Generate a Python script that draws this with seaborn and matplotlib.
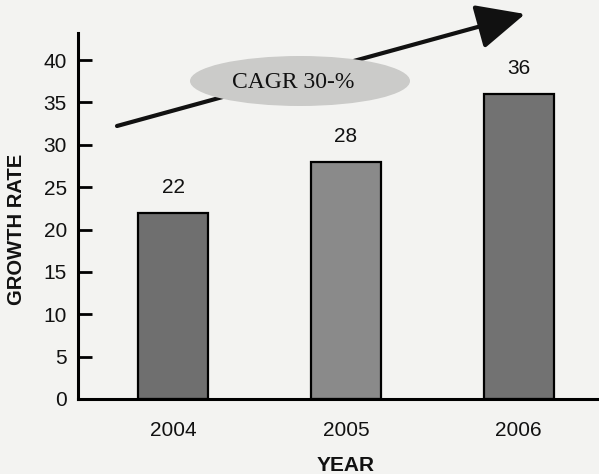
import matplotlib
matplotlib.use("Agg")
import matplotlib.pyplot as plt
from matplotlib.patches import Ellipse, FancyArrowPatch
import pandas as pd
import seaborn as sns

years = ["2004", "2005", "2006"]
growth = [22, 28, 36]
bar_colors = ["#6f6f6f", "#8a8a8a", "#727272"]
y_ticks = [0, 5, 10, 15, 20, 25, 30, 35, 40]
cagr_label = "CAGR 30-%"

sns.set_theme(style="white")
plt.rcParams["font.family"] = ["Liberation Sans", "DejaVu Sans"]

bg = "#f3f3f1"
fig = plt.figure(figsize=(5.99, 4.74), dpi=100, facecolor=bg)
ax = fig.add_axes([78 / 599, 1 - 399 / 474, 1 - 78 / 599, (399 - 33) / 474])
ax.set_facecolor(bg)

df = pd.DataFrame({"year": years, "growth": growth})
sns.barplot(data=df, x="year", y="growth", hue="year", palette=bar_colors,
            width=0.406, edgecolor="black", linewidth=1.6, legend=False,
            saturation=1, ax=ax)

for i, v in enumerate(growth):
    ax.annotate(str(v), (i, v), xytext=(0, 18), textcoords="offset points",
                ha="center", va="center", fontsize=15, color="#111111")

ax.set_xlim(-0.55, 2.464)
ax.set_ylim(0, 43.2)
ax.set_yticks(y_ticks)
ax.set_yticklabels([str(t) for t in y_ticks], fontsize=15, color="#111111")
ax.tick_params(axis="y", direction="in", length=10, width=2, pad=8, color="black", left=True)
ax.tick_params(axis="x", length=0, pad=16, labelsize=15, labelcolor="#111111")

for s in ["top", "right"]:
    ax.spines[s].set_visible(False)
ax.spines["left"].set_linewidth(2.2)
ax.spines["bottom"].set_linewidth(2.2)
ax.spines["left"].set_color("black")
ax.spines["bottom"].set_color("black")

ax.set_xlabel("YEAR", fontsize=15, fontweight="bold", color="#111111")
ax.xaxis.set_label_coords((346 - 78) / 521, -(456 - 399) / 366)
ax.set_ylabel("GROWTH RATE", fontsize=14.5, fontweight="bold", color="#111111")
ax.yaxis.set_label_coords((26 - 78) / 521, (399 - 229) / 366)

# trend arrow with the growth-rate callout
fig.patches.append(FancyArrowPatch(
    (117 / 599, 1 - 126 / 474), (525 / 599, 1 - 14 / 474),
    transform=fig.transFigure, arrowstyle="-|>,head_length=1.5,head_width=0.7",
    mutation_scale=20, lw=3, color="#111111", shrinkA=0, shrinkB=0, zorder=5))
fig.patches.append(Ellipse((300 / 599, 1 - 81 / 474), 220 / 599, 50 / 474,
                           transform=fig.transFigure, facecolor="#cbcbc9",
                           edgecolor="none", zorder=6))
fig.text(293 / 599, 1 - 82 / 474, cagr_label, ha="center", va="center",
         fontsize=17, family=["Liberation Serif", "DejaVu Serif"],
         color="#111111", zorder=7)

fig.savefig("out.png", dpi=100, facecolor=bg)
